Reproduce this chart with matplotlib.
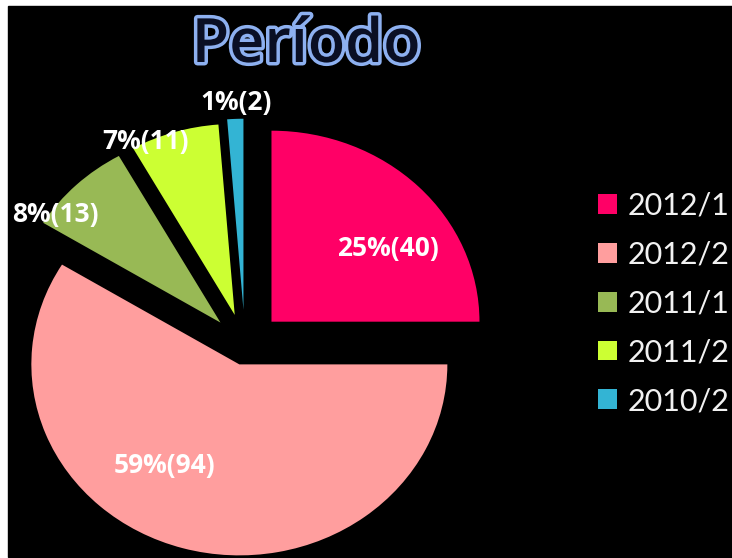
import matplotlib
matplotlib.use('Agg')
import matplotlib.pyplot as plt
from matplotlib.patches import Rectangle
import matplotlib.patheffects as pe
import numpy as np

# ---- data ----
categories = ['2012/1', '2012/2', '2011/1', '2011/2', '2010/2']
values = [40, 94, 13, 11, 2]
title = 'Período'

# ---- styling / layout ----
colors = ['#FF0066', '#FF9E9E', '#98B955', '#CCFF33', '#33B4D4']
explode = [0.18, 0.10, 0.17, 0.17, 0.19]
label_radius = [0.858, 0.737, 1.144, 1.175, 1.273]
label_angle_shift = [-8.3, -16.1, 9.0, 7.2, -0.3]

W, H = 732, 558
fig = plt.figure(figsize=(W / 100, H / 100), dpi=100, facecolor='white')
fig.patches.append(Rectangle((8 / W, 1 / H), 724 / W, 551 / H,
                             transform=fig.transFigure, color='black', zorder=-10))

ax = fig.add_axes([0, 0, 1, 1])
ax.set_zorder(5)
ax.patch.set_visible(False)
wedges, _ = ax.pie(values, colors=colors, explode=explode, startangle=90,
                   counterclock=False, radius=1, wedgeprops=dict(linewidth=0))
ax.set_aspect('auto')
cx, cy, sx, sy = 245, 346, 208, 191
ax.set_xlim(-cx / sx, (W - cx) / sx)
ax.set_ylim(-(H - cy) / sy, cy / sy)
ax.axis('off')

total = sum(values)
for i, w in enumerate(wedges):
    mid = (w.theta1 + w.theta2) / 2 + label_angle_shift[i]
    r = label_radius[i]
    pct = round(values[i] / total * 100)
    ax.text(r * np.cos(np.radians(mid)), r * np.sin(np.radians(mid)),
            f'{pct}%({values[i]})', ha='center', va='center', color='white',
            fontsize=19, fontweight='bold', family='Open Sans')

fig.text(306 / W, 1 - 62 / H, title, ha='center', va='baseline', fontsize=44,
         color='#0a0f24', family='Open Sans', fontweight='semibold', zorder=10,
         path_effects=[pe.withStroke(linewidth=5, foreground='#8DB0F0')])

ax.legend(wedges, categories, loc='center left',
          bbox_to_anchor=(598 / W, 1 - 303.5 / H), bbox_transform=fig.transFigure,
          frameon=False, prop=dict(family='Lato', size=22), labelcolor='#F2F2F2',
          handlelength=0.62, handleheight=0.62, handletextpad=0.36,
          labelspacing=0.68, borderpad=0, borderaxespad=0)

fig.savefig('out.png', dpi=100, facecolor='white')
